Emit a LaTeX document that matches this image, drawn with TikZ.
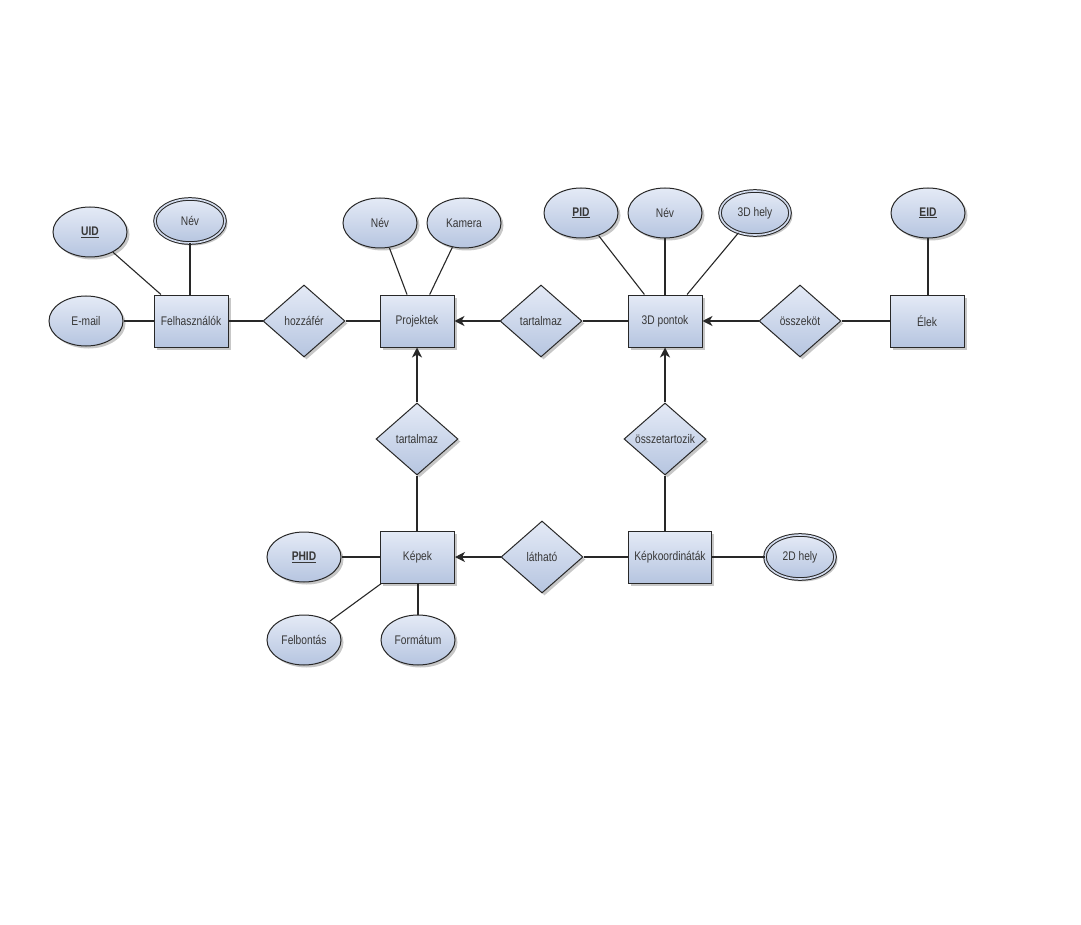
\documentclass[tikz,border=0pt]{standalone}
\usepackage{fontspec}
\setmainfont{Liberation Sans}[FakeStretch=0.82]
\usetikzlibrary{shapes.geometric,shadows,arrows.meta}
\definecolor{fillTop}{RGB}{228,234,246}
\definecolor{fillBot}{RGB}{182,197,224}
\definecolor{lineC}{RGB}{40,40,40}
\definecolor{txtC}{RGB}{55,55,55}
\newcommand{\zw}[1]{\makebox[0pt]{#1}}
\newcommand{\keyattr}[1]{\textbf{\underline{#1}}}
\begin{document}
\begin{tikzpicture}[x=1pt,y=-1pt,
  base/.style={draw=lineC, line width=1pt, top color=fillTop, bottom color=fillBot,
    drop shadow={shadow xshift=2.5pt, shadow yshift=-2.5pt, fill=black, opacity=0.22},
    font=\fontsize{12.5}{14}\selectfont, text=txtC, inner sep=0pt},
  ent/.style={base, rectangle, minimum width=74pt, minimum height=52pt},
  attr/.style={base, ellipse, minimum width=74pt, minimum height=50pt},
  mattr/.style={attr, double=fillTop!60!fillBot, double distance=1.6pt, minimum width=70pt, minimum height=44pt},
  rel/.style={base, diamond, minimum width=82pt, minimum height=72pt},
  conn/.style={draw=lineC, line width=1.1pt},
  arr/.style={conn, -{Stealth[length=10pt,width=10pt,inset=3pt]}}
]
\useasboundingbox[fill=white] (0,0) rectangle (1081,925);

% entities
\node[ent] (felh) at (191,321) {Felhasználók};
\node[ent] (proj) at (417,321) {Projektek};
\node[ent] (pont) at (665,321) {3D pontok};
\node[ent] (elek) at (927,321) {Élek};
\node[ent] (kep) at (417.5,557) {Képek};
\node[ent, minimum width=83pt] (kk) at (670,557) {Képkoordináták};

% relationships
\node[rel] (hozz) at (304,321) {\zw{hozzáfér}};
\node[rel] (tart1) at (541,321) {\zw{tartalmaz}};
\node[rel] (oszk) at (800,321) {\zw{összeköt}};
\node[rel] (tart2) at (417,439) {\zw{tartalmaz}};
\node[rel] (osszt) at (665,439) {\zw{összetartozik}};
\node[rel] (lat) at (542,557) {\zw{látható}};

% attributes
\node[attr] (uid) at (90,232) {\keyattr{UID}};
\node[mattr] (fnev) at (190,221) {Név};
\node[attr] (email) at (86,321) {E-mail};
\node[attr] (pnev) at (380,223) {Név};
\node[attr] (kam) at (464,223) {Kamera};
\node[attr] (pid) at (581,213) {\keyattr{PID}};
\node[attr] (dnev) at (665,213) {Név};
\node[mattr] (hely3) at (755,213) {3D hely};
\node[attr] (eid) at (928,213) {\keyattr{EID}};
\node[attr] (phid) at (304,557) {\keyattr{PHID}};
\node[attr] (felb) at (304,640) {Felbontás};
\node[attr] (form) at (418,640) {Formátum};
\node[mattr] (hely2) at (800,557) {2D hely};

% attribute connectors
\draw[conn] (uid) -- (felh);
\draw[conn] (fnev.south) -- (fnev.south |- felh.north);
\draw[conn] (email) -- (felh);
\draw[conn] (pnev) -- (proj);
\draw[conn] (kam) -- (proj);
\draw[conn] (pid) -- (pont);
\draw[conn] (dnev) -- (pont);
\draw[conn] (hely3) -- (pont);
\draw[conn] (eid.south) -- (eid.south |- elek.north);
\draw[conn] (phid) -- (kep);
\draw[conn] (felb) -- (kep);
\draw[conn] (form.north) -- (form.north |- kep.south);
\draw[conn] (kk) -- (hely2);

% relationship connectors
\draw[conn] (felh) -- (hozz);
\draw[conn] (hozz) -- (proj);
\draw[conn] (pont) -- (tart1);
\draw[arr] (tart1) -- (proj);
\draw[conn] (elek) -- (oszk);
\draw[arr] (oszk) -- (pont);
\draw[conn] (tart2.south) -- (tart2.south |- kep.north);
\draw[arr] (tart2) -- (proj);
\draw[conn] (osszt.south) -- (osszt.south |- kk.north);
\draw[arr] (osszt) -- (pont);
\draw[conn] (kk) -- (lat);
\draw[arr] (lat) -- (kep);
\end{tikzpicture}
\end{document}
